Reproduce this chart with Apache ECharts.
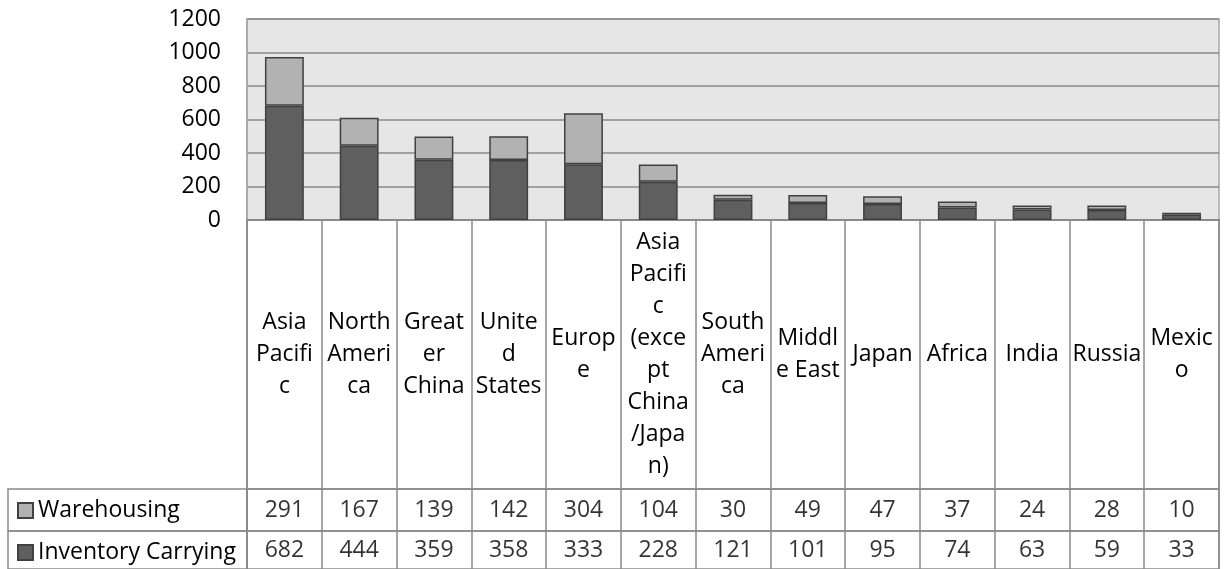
<!DOCTYPE html>
<html>
<head>
<meta charset="utf-8">
<script src="https://cdn.jsdelivr.net/npm/echarts@6/dist/echarts.min.js"></script>
<style>
  html, body { margin: 0; padding: 0; background: #fff; }
  #chart { width: 1232px; height: 569px; }
</style>
</head>
<body>
<div id="chart"></div>
<script>
const categories = ['Asia Pacific', 'North America', 'Greater China', 'United States', 'Europe',
  'Asia Pacific (except China/Japan)', 'South America', 'Middle East', 'Japan', 'Africa',
  'India', 'Russia', 'Mexico']
// wrapped the same way as the cells of the data table
const categoryLabels = ['Asia\nPacifi\nc', 'North\nAmeri\nca', 'Great\ner\nChina', 'Unite\nd\nStates',
  'Europ\ne', 'Asia\nPacifi\nc\n(exce\npt\nChina\n/Japa\nn)', 'South\nAmeri\nca', 'Middl\ne East',
  'Japan', 'Africa', 'India', 'Russia', 'Mexic\no']
const warehousing = [291, 167, 139, 142, 304, 104, 30, 49, 47, 37, 24, 28, 10]
const inventoryCarrying = [682, 444, 359, 358, 333, 228, 121, 101, 95, 74, 63, 59, 33]

const font = "'Open Sans', sans-serif"
const fs = 23
const lineColor = '#8a8a8a'
const whColor = '#b2b2b2'
const icColor = '#5f5f5f'

const plotLeft = 247
const plotRight = 13
const rowH = 42

const chart = echarts.init(document.getElementById('chart'))

const tableAxis = (grid) => ({
  type: 'category',
  gridIndex: grid,
  data: categories,
  axisLine: { show: false },
  axisTick: { show: false },
  axisLabel: { show: false },
  splitLine: { show: true, interval: 0, lineStyle: { color: lineColor, width: 1.5 } },
})
const hiddenY = (grid) => ({ type: 'value', gridIndex: grid, min: -1, max: 1, show: false, splitLine: { show: false } })
const hiddenX = (grid) => ({ type: 'value', gridIndex: grid, min: 0, max: 1, show: false, splitLine: { show: false } })

const cellBorder = { show: true, borderColor: lineColor, borderWidth: 1.5, backgroundColor: 'transparent' }

function valueRow(name, values, grid) {
  return {
    name,
    type: 'scatter',
    xAxisIndex: grid,
    yAxisIndex: grid,
    symbolSize: 0,
    silent: true,
    data: values.map((v, i) => [i, 0, v]),
    label: {
      show: true,
      position: 'inside',
      formatter: (p) => p.value[2],
      color: '#000',
      fontFamily: font,
      fontSize: fs,
    },
  }
}

const legendText = { color: '#000', fontFamily: font, fontSize: fs }

chart.setOption({
  animation: false,
  backgroundColor: '#fff',
  textStyle: { fontFamily: font },
  grid: [
    { left: plotLeft, right: plotRight, top: 19, height: 201, show: true, backgroundColor: '#e6e6e6', borderColor: '#a6a6a6', borderWidth: 1.5 },
    { left: plotLeft, right: plotRight, top: 220, height: 269, ...cellBorder },
    { left: plotLeft, right: plotRight, top: 489, height: rowH, ...cellBorder },
    { left: plotLeft, right: plotRight, top: 489 + rowH, height: rowH, ...cellBorder },
    { left: 8, width: plotLeft - 8, top: 489, height: rowH, ...cellBorder },
    { left: 8, width: plotLeft - 8, top: 489 + rowH, height: rowH, ...cellBorder },
  ],
  legend: [
    {
      data: ['Warehousing'], left: 17, top: 489 + 10, padding: 0, icon: 'rect',
      itemWidth: 15, itemHeight: 15, textStyle: legendText,
    },
    {
      data: ['Inventory Carrying'], left: 17, top: 489 + rowH + 10, padding: 0, icon: 'rect',
      itemWidth: 15, itemHeight: 15, textStyle: legendText,
    },
  ],
  xAxis: [
    {
      type: 'category',
      gridIndex: 0,
      data: categories,
      axisLine: { show: true, lineStyle: { color: lineColor, width: 2 } },
      axisTick: { show: false },
      axisLabel: {
        interval: 0,
        margin: 134,
        verticalAlign: 'middle',
        align: 'center',
        lineHeight: 32,
        color: '#000',
        fontFamily: font,
        fontSize: fs,
        formatter: (v, i) => categoryLabels[i],
      },
    },
    tableAxis(1),
    tableAxis(2),
    tableAxis(3),
    hiddenX(4),
    hiddenX(5),
  ],
  yAxis: [
    {
      type: 'value',
      gridIndex: 0,
      min: 0,
      max: 1200,
      interval: 200,
      axisLine: { show: true, lineStyle: { color: '#a6a6a6', width: 1.5 } },
      axisTick: { show: false },
      axisLabel: { margin: 26, color: '#000', fontFamily: font, fontSize: fs, formatter: (v) => String(v) },
      splitLine: { lineStyle: { color: lineColor, width: 1.5 } },
    },
    hiddenY(1),
    hiddenY(2),
    hiddenY(3),
    hiddenY(4),
    hiddenY(5),
  ],
  series: [
    {
      name: 'Inventory Carrying',
      type: 'bar',
      stack: 'cost',
      barWidth: '52%',
      data: inventoryCarrying,
      itemStyle: { color: icColor, borderColor: '#404040', borderWidth: 1.5 },
    },
    {
      name: 'Warehousing',
      type: 'bar',
      stack: 'cost',
      barWidth: '52%',
      data: warehousing,
      itemStyle: { color: whColor, borderColor: '#404040', borderWidth: 1.5 },
    },
    valueRow('whRow', warehousing, 2),
    valueRow('icRow', inventoryCarrying, 3),
  ],
})
</script>
</body>
</html>
